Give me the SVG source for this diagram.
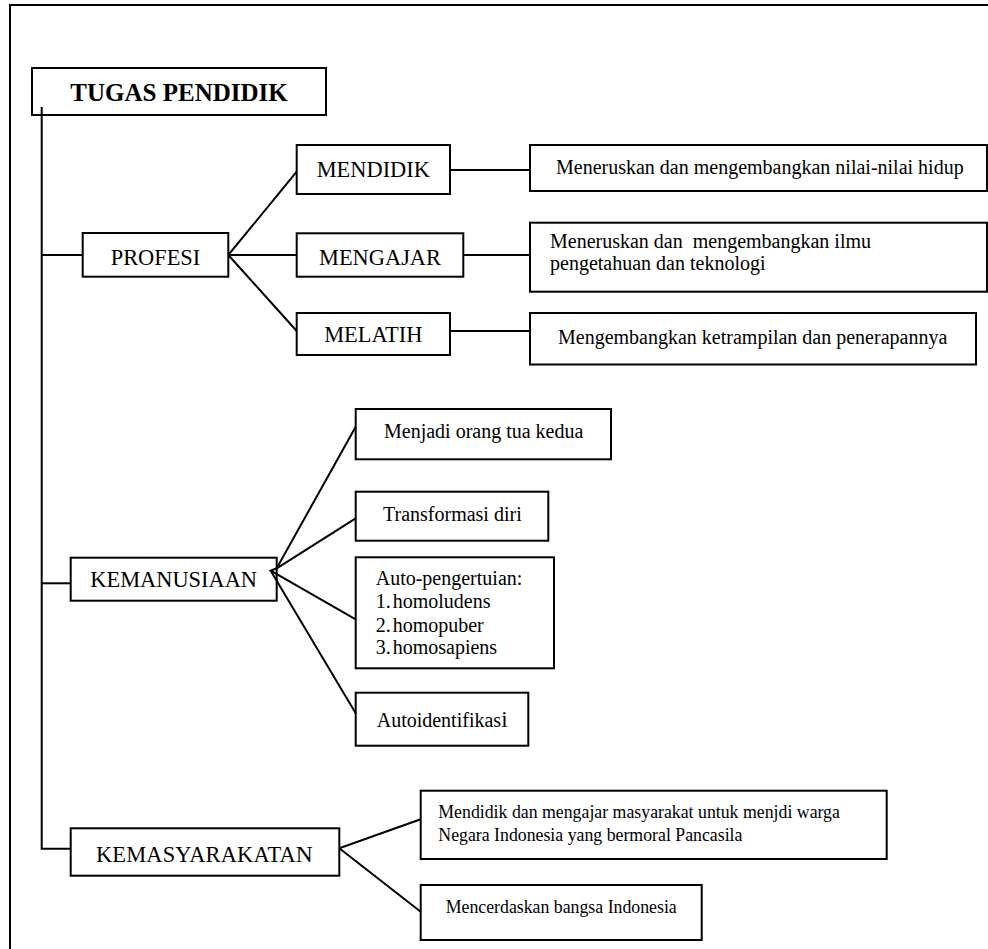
<svg xmlns="http://www.w3.org/2000/svg" width="988" height="949" viewBox="0 0 988 949">
<style>
.box{fill:#fff;stroke:#000;stroke-width:2}
.ln{fill:none;stroke:#000;stroke-width:2}
text{font-family:'Liberation Serif','DejaVu Serif',serif;fill:#000}
.h{font-size:22.4px;text-anchor:middle}
.t{font-size:20px}
.s{font-size:17.8px}
.ttl{font-size:25px;font-weight:bold;text-anchor:middle}
</style>
<rect width="988" height="949" fill="#fff"/>
<path class="ln" d="M10,949 V5 H988"/>
<g id="tugas"><rect class="box" x="32" y="68" width="294" height="47"/><text class="ttl" x="179" y="101">TUGAS PENDIDIK</text></g>
<g id="profesi"><rect class="box" x="82.7" y="233" width="145.6" height="43.7"/><text class="h" x="155.5" y="265">PROFESI</text></g>
<g id="mendidik"><rect class="box" x="296.7" y="145" width="153.3" height="49"/><text class="h" x="373.3" y="177">MENDIDIK</text></g>
<g id="mengajar"><rect class="box" x="296.7" y="233.3" width="166.6" height="43.4"/><text class="h" x="380" y="264.5">MENGAJAR</text></g>
<g id="melatih"><rect class="box" x="296.7" y="313" width="153.3" height="42"/><text class="h" x="373.3" y="342">MELATIH</text></g>
<g id="d1"><rect class="box" x="530" y="145" width="457" height="46"/><text class="t" x="556" y="174">Meneruskan dan mengembangkan nilai-nilai hidup</text></g>
<g id="d2"><rect class="box" x="530" y="222.7" width="457" height="69"/><text class="t" x="550" y="248" style="white-space:pre">Meneruskan dan  mengembangkan ilmu</text><text class="t" x="550" y="270">pengetahuan dan teknologi</text></g>
<g id="d3"><rect class="box" x="530" y="313" width="446" height="51.5"/><text class="t" x="558" y="344">Mengembangkan ketrampilan dan penerapannya</text></g>
<g id="kemanusiaan"><rect class="box" x="70.7" y="557.7" width="206" height="43"/><text class="h" x="173.7" y="587">KEMANUSIAAN</text></g>
<g id="k1"><rect class="box" x="355.7" y="409" width="255.3" height="50.3"/><text class="t" x="384" y="438">Menjadi orang tua kedua</text></g>
<g id="k2"><rect class="box" x="355.7" y="491.7" width="192.6" height="49"/><text class="t" x="383" y="521">Transformasi diri</text></g>
<g id="k3"><rect class="box" x="355.7" y="557.3" width="198.3" height="111"/><text class="t" x="375.7" y="585">Auto-pengertuian:</text><text class="t" x="375.7" y="608">1.</text><text class="t" x="392.7" y="608">homoludens</text><text class="t" x="375.7" y="631.5">2.</text><text class="t" x="392.7" y="631.5">homopuber</text><text class="t" x="375.7" y="654">3.</text><text class="t" x="392.7" y="654">homosapiens</text></g>
<g id="k4"><rect class="box" x="355.7" y="692.7" width="172.6" height="53"/><text class="t" x="376.7" y="726.7">Autoidentifikas<tspan font-size="23">i</tspan></text></g>
<g id="kemasyarakatan"><rect class="box" x="70.7" y="828.3" width="268.6" height="47.4"/><text class="h" x="204.5" y="861.5" letter-spacing="0.2">KEMASYARAKATA<tspan font-size="23.5">N</tspan></text></g>
<g id="s1"><rect class="box" x="420.7" y="790.7" width="466" height="68.3"/><text class="s" x="438.3" y="818.3">Mendidik dan mengajar masyarakat untuk menjdi warga</text><text class="s" x="438.3" y="840.7">Negara Indonesia yang bermoral Pancasila</text></g>
<g id="s2"><rect class="box" x="420.7" y="885" width="281" height="55"/><text class="s" x="445.7" y="913.3">Mencerdaskan bangsa Indonesia</text></g>
<g id="connectors">
<path class="ln" d="M41.7,107 V848.7 H70.7"/>
<path class="ln" d="M41.7,255 H82.7"/>
<path class="ln" d="M41.7,583.3 H70.7"/>
<path class="ln" d="M228.3,255 L296.7,171.7 M228.3,255 H296.7 M228.3,255 L296.7,331"/>
<path class="ln" d="M450,170 H530 M463.3,255 H530 M450,331 H530"/>
<path class="ln" d="M276.7,568.3 L355.7,426.7 M276.7,568.3 L355.7,518.3 M276.7,568.3 L270.7,570.7 L355.7,619.3 M270.7,570.7 L355.7,713.3"/>
<path class="ln" d="M339.3,848.3 L420.7,819.3 M339.3,848.3 L420.7,911.7"/>
</g>
</svg>
